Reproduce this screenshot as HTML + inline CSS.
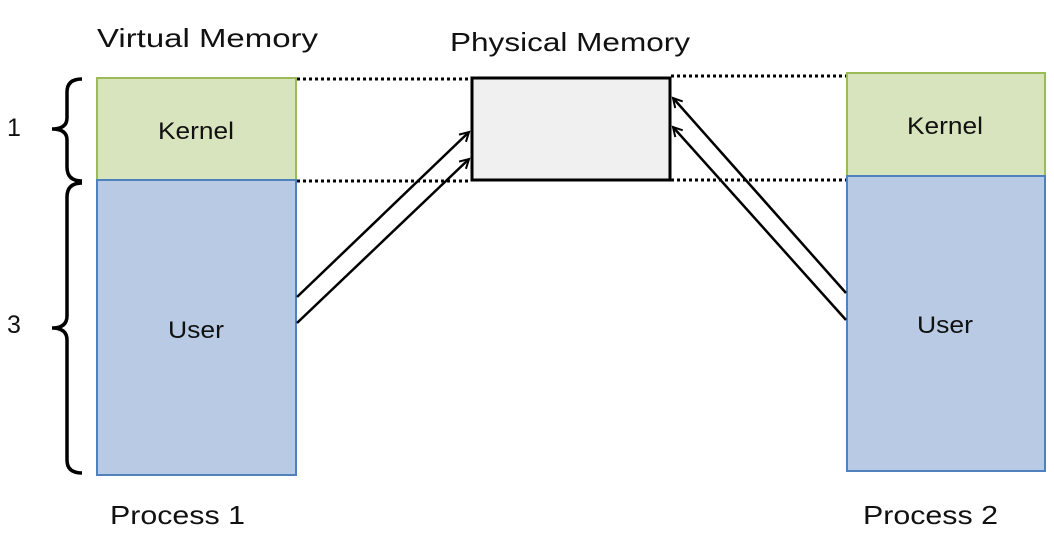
<!DOCTYPE html>
<html><head><style>
body{margin:0;background:#fff;}
svg{display:block;font-family:"Liberation Sans",sans-serif;}
</style></head><body>
<svg width="1054" height="545" viewBox="0 0 1054 545">
<defs><marker id="a" markerWidth="12" markerHeight="12" refX="10" refY="6" orient="auto" markerUnits="userSpaceOnUse"><path d="M1,1 L10,6 L1,11" fill="none" stroke="#000" stroke-width="2"/></marker></defs>
<text x="97" y="47" font-size="26" textLength="221" lengthAdjust="spacingAndGlyphs" fill="#111">Virtual Memory</text>
<text x="450" y="51" font-size="26" textLength="240" lengthAdjust="spacingAndGlyphs" fill="#111">Physical Memory</text>
<rect x="97" y="78" width="199" height="102" fill="#d7e4bd" stroke="#9bbb59" stroke-width="2"/>
<rect x="97" y="180" width="199" height="295" fill="#b9cbe4" stroke="#4f81bd" stroke-width="2"/>
<text x="158" y="139" font-size="24" textLength="76" lengthAdjust="spacingAndGlyphs" fill="#111">Kernel</text>
<text x="168" y="338" font-size="24" textLength="56" lengthAdjust="spacingAndGlyphs" fill="#111">User</text>
<rect x="847" y="73" width="198" height="103" fill="#d7e4bd" stroke="#9bbb59" stroke-width="2"/>
<rect x="847" y="176" width="198" height="295" fill="#b9cbe4" stroke="#4f81bd" stroke-width="2"/>
<text x="907" y="134" font-size="24" textLength="76" lengthAdjust="spacingAndGlyphs" fill="#111">Kernel</text>
<text x="917" y="333" font-size="24" textLength="56" lengthAdjust="spacingAndGlyphs" fill="#111">User</text>
<rect x="472" y="78" width="198" height="102" fill="#f0f0f0" stroke="#000" stroke-width="3"/>
<g stroke="#000" stroke-width="3" stroke-dasharray="3,3">
<line x1="297" y1="79" x2="471" y2="79"/><line x1="297" y1="181" x2="471" y2="181"/>
<line x1="671" y1="76" x2="846" y2="76"/><line x1="671" y1="180" x2="846" y2="180"/>
</g>
<g stroke="#000" stroke-width="2.5" fill="none">
<line x1="297" y1="297" x2="469" y2="132" marker-end="url(#a)"/>
<line x1="297" y1="323" x2="469" y2="159" marker-end="url(#a)"/>
<line x1="846" y1="293" x2="673" y2="98" marker-end="url(#a)"/>
<line x1="846" y1="320" x2="673" y2="127" marker-end="url(#a)"/>
</g>
<g stroke="#000" stroke-width="3.5" fill="none">
<path d="M82,79 Q67,79 67,92 L67,118 Q67,129 52,129 Q67,129 67,140 L67,167 Q67,181 82,181"/>
<path d="M82,183 Q67,183 67,197 L67,316 Q67,328 52,328 Q67,328 67,340 L67,460 Q67,473 82,473"/>
</g>
<text x="14" y="136" font-size="25" text-anchor="middle" fill="#111">1</text>
<text x="14" y="333" font-size="25" text-anchor="middle" fill="#111">3</text>
<text x="110" y="524" font-size="26" textLength="135" lengthAdjust="spacingAndGlyphs" fill="#111">Process 1</text>
<text x="863" y="524" font-size="26" textLength="135" lengthAdjust="spacingAndGlyphs" fill="#111">Process 2</text>
</svg>
</body></html>
